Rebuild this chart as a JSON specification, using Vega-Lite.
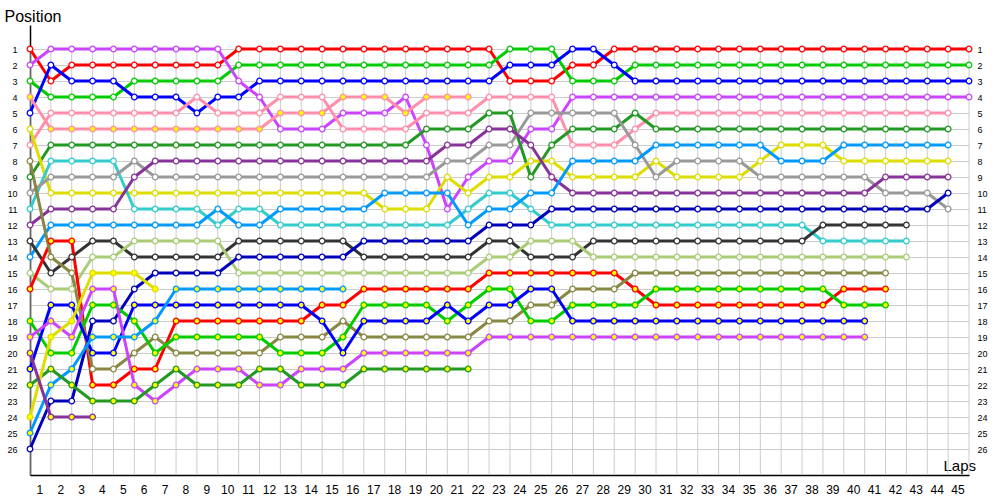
{
"$schema": "https://vega.github.io/schema/vega-lite/v6.json",
"width": 939,
"height": 450,
"autosize": {"type": "none"},
"padding": {"left": 30, "top": 25, "right": 31, "bottom": 25},
"background": "white",
"config": {"view": {"stroke": null}, "font": "Liberation Sans", "axis": {"labelOverlap": false}},
"data": {"values": [
{"car":"Rw","lap":0,"pos":1},{"car":"Rw","lap":1,"pos":3},{"car":"Rw","lap":2,"pos":2},{"car":"Rw","lap":3,"pos":2},{"car":"Rw","lap":4,"pos":2},{"car":"Rw","lap":5,"pos":2},{"car":"Rw","lap":6,"pos":2},{"car":"Rw","lap":7,"pos":2},{"car":"Rw","lap":8,"pos":2},{"car":"Rw","lap":9,"pos":2},
{"car":"Rw","lap":10,"pos":1},{"car":"Rw","lap":11,"pos":1},{"car":"Rw","lap":12,"pos":1},{"car":"Rw","lap":13,"pos":1},{"car":"Rw","lap":14,"pos":1},{"car":"Rw","lap":15,"pos":1},{"car":"Rw","lap":16,"pos":1},{"car":"Rw","lap":17,"pos":1},{"car":"Rw","lap":18,"pos":1},{"car":"Rw","lap":19,"pos":1},
{"car":"Rw","lap":20,"pos":1},{"car":"Rw","lap":21,"pos":1},{"car":"Rw","lap":22,"pos":1},{"car":"Rw","lap":23,"pos":3},{"car":"Rw","lap":24,"pos":3},{"car":"Rw","lap":25,"pos":3},{"car":"Rw","lap":26,"pos":2},{"car":"Rw","lap":27,"pos":2},{"car":"Rw","lap":28,"pos":1},{"car":"Rw","lap":29,"pos":1},
{"car":"Rw","lap":30,"pos":1},{"car":"Rw","lap":31,"pos":1},{"car":"Rw","lap":32,"pos":1},{"car":"Rw","lap":33,"pos":1},{"car":"Rw","lap":34,"pos":1},{"car":"Rw","lap":35,"pos":1},{"car":"Rw","lap":36,"pos":1},{"car":"Rw","lap":37,"pos":1},{"car":"Rw","lap":38,"pos":1},{"car":"Rw","lap":39,"pos":1},
{"car":"Rw","lap":40,"pos":1},{"car":"Rw","lap":41,"pos":1},{"car":"Rw","lap":42,"pos":1},{"car":"Rw","lap":43,"pos":1},{"car":"Rw","lap":44,"pos":1},{"car":"Rw","lap":45,"pos":1},

{"car":"Gw","lap":0,"pos":3},{"car":"Gw","lap":1,"pos":4},{"car":"Gw","lap":2,"pos":4},{"car":"Gw","lap":3,"pos":4},{"car":"Gw","lap":4,"pos":4},{"car":"Gw","lap":5,"pos":3},{"car":"Gw","lap":6,"pos":3},{"car":"Gw","lap":7,"pos":3},{"car":"Gw","lap":8,"pos":3},{"car":"Gw","lap":9,"pos":3},
{"car":"Gw","lap":10,"pos":2},{"car":"Gw","lap":11,"pos":2},{"car":"Gw","lap":12,"pos":2},{"car":"Gw","lap":13,"pos":2},{"car":"Gw","lap":14,"pos":2},{"car":"Gw","lap":15,"pos":2},{"car":"Gw","lap":16,"pos":2},{"car":"Gw","lap":17,"pos":2},{"car":"Gw","lap":18,"pos":2},{"car":"Gw","lap":19,"pos":2},
{"car":"Gw","lap":20,"pos":2},{"car":"Gw","lap":21,"pos":2},{"car":"Gw","lap":22,"pos":2},{"car":"Gw","lap":23,"pos":1},{"car":"Gw","lap":24,"pos":1},{"car":"Gw","lap":25,"pos":1},{"car":"Gw","lap":26,"pos":3},{"car":"Gw","lap":27,"pos":3},{"car":"Gw","lap":28,"pos":3},{"car":"Gw","lap":29,"pos":2},
{"car":"Gw","lap":30,"pos":2},{"car":"Gw","lap":31,"pos":2},{"car":"Gw","lap":32,"pos":2},{"car":"Gw","lap":33,"pos":2},{"car":"Gw","lap":34,"pos":2},{"car":"Gw","lap":35,"pos":2},{"car":"Gw","lap":36,"pos":2},{"car":"Gw","lap":37,"pos":2},{"car":"Gw","lap":38,"pos":2},{"car":"Gw","lap":39,"pos":2},
{"car":"Gw","lap":40,"pos":2},{"car":"Gw","lap":41,"pos":2},{"car":"Gw","lap":42,"pos":2},{"car":"Gw","lap":43,"pos":2},{"car":"Gw","lap":44,"pos":2},{"car":"Gw","lap":45,"pos":2},

{"car":"Bw","lap":0,"pos":5},{"car":"Bw","lap":1,"pos":2},{"car":"Bw","lap":2,"pos":3},{"car":"Bw","lap":3,"pos":3},{"car":"Bw","lap":4,"pos":3},{"car":"Bw","lap":5,"pos":4},{"car":"Bw","lap":6,"pos":4},{"car":"Bw","lap":7,"pos":4},{"car":"Bw","lap":8,"pos":5},{"car":"Bw","lap":9,"pos":4},
{"car":"Bw","lap":10,"pos":4},{"car":"Bw","lap":11,"pos":3},{"car":"Bw","lap":12,"pos":3},{"car":"Bw","lap":13,"pos":3},{"car":"Bw","lap":14,"pos":3},{"car":"Bw","lap":15,"pos":3},{"car":"Bw","lap":16,"pos":3},{"car":"Bw","lap":17,"pos":3},{"car":"Bw","lap":18,"pos":3},{"car":"Bw","lap":19,"pos":3},
{"car":"Bw","lap":20,"pos":3},{"car":"Bw","lap":21,"pos":3},{"car":"Bw","lap":22,"pos":3},{"car":"Bw","lap":23,"pos":2},{"car":"Bw","lap":24,"pos":2},{"car":"Bw","lap":25,"pos":2},{"car":"Bw","lap":26,"pos":1},{"car":"Bw","lap":27,"pos":1},{"car":"Bw","lap":28,"pos":2},{"car":"Bw","lap":29,"pos":3},
{"car":"Bw","lap":30,"pos":3},{"car":"Bw","lap":31,"pos":3},{"car":"Bw","lap":32,"pos":3},{"car":"Bw","lap":33,"pos":3},{"car":"Bw","lap":34,"pos":3},{"car":"Bw","lap":35,"pos":3},{"car":"Bw","lap":36,"pos":3},{"car":"Bw","lap":37,"pos":3},{"car":"Bw","lap":38,"pos":3},{"car":"Bw","lap":39,"pos":3},
{"car":"Bw","lap":40,"pos":3},{"car":"Bw","lap":41,"pos":3},{"car":"Bw","lap":42,"pos":3},{"car":"Bw","lap":43,"pos":3},{"car":"Bw","lap":44,"pos":3},{"car":"Bw","lap":45,"pos":3},

{"car":"Vw","lap":0,"pos":2},{"car":"Vw","lap":1,"pos":1},{"car":"Vw","lap":2,"pos":1},{"car":"Vw","lap":3,"pos":1},{"car":"Vw","lap":4,"pos":1},{"car":"Vw","lap":5,"pos":1},{"car":"Vw","lap":6,"pos":1},{"car":"Vw","lap":7,"pos":1},{"car":"Vw","lap":8,"pos":1},{"car":"Vw","lap":9,"pos":1},
{"car":"Vw","lap":10,"pos":3},{"car":"Vw","lap":11,"pos":4},{"car":"Vw","lap":12,"pos":6},{"car":"Vw","lap":13,"pos":6},{"car":"Vw","lap":14,"pos":6},{"car":"Vw","lap":15,"pos":5},{"car":"Vw","lap":16,"pos":5},{"car":"Vw","lap":17,"pos":5},{"car":"Vw","lap":18,"pos":4},{"car":"Vw","lap":19,"pos":7},
{"car":"Vw","lap":20,"pos":11},{"car":"Vw","lap":21,"pos":9},{"car":"Vw","lap":22,"pos":8},{"car":"Vw","lap":23,"pos":8},{"car":"Vw","lap":24,"pos":6},{"car":"Vw","lap":25,"pos":6},{"car":"Vw","lap":26,"pos":4},{"car":"Vw","lap":27,"pos":4},{"car":"Vw","lap":28,"pos":4},{"car":"Vw","lap":29,"pos":4},
{"car":"Vw","lap":30,"pos":4},{"car":"Vw","lap":31,"pos":4},{"car":"Vw","lap":32,"pos":4},{"car":"Vw","lap":33,"pos":4},{"car":"Vw","lap":34,"pos":4},{"car":"Vw","lap":35,"pos":4},{"car":"Vw","lap":36,"pos":4},{"car":"Vw","lap":37,"pos":4},{"car":"Vw","lap":38,"pos":4},{"car":"Vw","lap":39,"pos":4},
{"car":"Vw","lap":40,"pos":4},{"car":"Vw","lap":41,"pos":4},{"car":"Vw","lap":42,"pos":4},{"car":"Vw","lap":43,"pos":4},{"car":"Vw","lap":44,"pos":4},{"car":"Vw","lap":45,"pos":4},

{"car":"Pw","lap":0,"pos":7},{"car":"Pw","lap":1,"pos":5},{"car":"Pw","lap":2,"pos":5},{"car":"Pw","lap":3,"pos":5},{"car":"Pw","lap":4,"pos":5},{"car":"Pw","lap":5,"pos":5},{"car":"Pw","lap":6,"pos":5},{"car":"Pw","lap":7,"pos":5},{"car":"Pw","lap":8,"pos":4},{"car":"Pw","lap":9,"pos":5},
{"car":"Pw","lap":10,"pos":5},{"car":"Pw","lap":11,"pos":5},{"car":"Pw","lap":12,"pos":4},{"car":"Pw","lap":13,"pos":4},{"car":"Pw","lap":14,"pos":4},{"car":"Pw","lap":15,"pos":6},{"car":"Pw","lap":16,"pos":6},{"car":"Pw","lap":17,"pos":6},{"car":"Pw","lap":18,"pos":6},{"car":"Pw","lap":19,"pos":5},
{"car":"Pw","lap":20,"pos":5},{"car":"Pw","lap":21,"pos":5},{"car":"Pw","lap":22,"pos":4},{"car":"Pw","lap":23,"pos":4},{"car":"Pw","lap":24,"pos":4},{"car":"Pw","lap":25,"pos":4},{"car":"Pw","lap":26,"pos":7},{"car":"Pw","lap":27,"pos":7},{"car":"Pw","lap":28,"pos":7},{"car":"Pw","lap":29,"pos":6},
{"car":"Pw","lap":30,"pos":5},{"car":"Pw","lap":31,"pos":5},{"car":"Pw","lap":32,"pos":5},{"car":"Pw","lap":33,"pos":5},{"car":"Pw","lap":34,"pos":5},{"car":"Pw","lap":35,"pos":5},{"car":"Pw","lap":36,"pos":5},{"car":"Pw","lap":37,"pos":5},{"car":"Pw","lap":38,"pos":5},{"car":"Pw","lap":39,"pos":5},
{"car":"Pw","lap":40,"pos":5},{"car":"Pw","lap":41,"pos":5},{"car":"Pw","lap":42,"pos":5},{"car":"Pw","lap":43,"pos":5},{"car":"Pw","lap":44,"pos":5},

{"car":"Py","lap":0,"pos":4},{"car":"Py","lap":1,"pos":6},{"car":"Py","lap":2,"pos":6},{"car":"Py","lap":3,"pos":6},{"car":"Py","lap":4,"pos":6},{"car":"Py","lap":5,"pos":6},{"car":"Py","lap":6,"pos":6},{"car":"Py","lap":7,"pos":6},{"car":"Py","lap":8,"pos":6},{"car":"Py","lap":9,"pos":6},
{"car":"Py","lap":10,"pos":6},{"car":"Py","lap":11,"pos":6},{"car":"Py","lap":12,"pos":5},{"car":"Py","lap":13,"pos":5},{"car":"Py","lap":14,"pos":5},{"car":"Py","lap":15,"pos":4},{"car":"Py","lap":16,"pos":4},{"car":"Py","lap":17,"pos":4},{"car":"Py","lap":18,"pos":5},{"car":"Py","lap":19,"pos":4},
{"car":"Py","lap":20,"pos":4},{"car":"Py","lap":21,"pos":4},

{"car":"DGw","lap":0,"pos":9},{"car":"DGw","lap":1,"pos":7},{"car":"DGw","lap":2,"pos":7},{"car":"DGw","lap":3,"pos":7},{"car":"DGw","lap":4,"pos":7},{"car":"DGw","lap":5,"pos":7},{"car":"DGw","lap":6,"pos":7},{"car":"DGw","lap":7,"pos":7},{"car":"DGw","lap":8,"pos":7},{"car":"DGw","lap":9,"pos":7},
{"car":"DGw","lap":10,"pos":7},{"car":"DGw","lap":11,"pos":7},{"car":"DGw","lap":12,"pos":7},{"car":"DGw","lap":13,"pos":7},{"car":"DGw","lap":14,"pos":7},{"car":"DGw","lap":15,"pos":7},{"car":"DGw","lap":16,"pos":7},{"car":"DGw","lap":17,"pos":7},{"car":"DGw","lap":18,"pos":7},{"car":"DGw","lap":19,"pos":6},
{"car":"DGw","lap":20,"pos":6},{"car":"DGw","lap":21,"pos":6},{"car":"DGw","lap":22,"pos":5},{"car":"DGw","lap":23,"pos":5},{"car":"DGw","lap":24,"pos":9},{"car":"DGw","lap":25,"pos":7},{"car":"DGw","lap":26,"pos":6},{"car":"DGw","lap":27,"pos":6},{"car":"DGw","lap":28,"pos":6},{"car":"DGw","lap":29,"pos":5},
{"car":"DGw","lap":30,"pos":6},{"car":"DGw","lap":31,"pos":6},{"car":"DGw","lap":32,"pos":6},{"car":"DGw","lap":33,"pos":6},{"car":"DGw","lap":34,"pos":6},{"car":"DGw","lap":35,"pos":6},{"car":"DGw","lap":36,"pos":6},{"car":"DGw","lap":37,"pos":6},{"car":"DGw","lap":38,"pos":6},{"car":"DGw","lap":39,"pos":6},
{"car":"DGw","lap":40,"pos":6},{"car":"DGw","lap":41,"pos":6},{"car":"DGw","lap":42,"pos":6},{"car":"DGw","lap":43,"pos":6},{"car":"DGw","lap":44,"pos":6},

{"car":"Yw","lap":0,"pos":6},{"car":"Yw","lap":1,"pos":10},{"car":"Yw","lap":2,"pos":10},{"car":"Yw","lap":3,"pos":10},{"car":"Yw","lap":4,"pos":10},{"car":"Yw","lap":5,"pos":10},{"car":"Yw","lap":6,"pos":10},{"car":"Yw","lap":7,"pos":10},{"car":"Yw","lap":8,"pos":10},{"car":"Yw","lap":9,"pos":10},
{"car":"Yw","lap":10,"pos":10},{"car":"Yw","lap":11,"pos":10},{"car":"Yw","lap":12,"pos":10},{"car":"Yw","lap":13,"pos":10},{"car":"Yw","lap":14,"pos":10},{"car":"Yw","lap":15,"pos":10},{"car":"Yw","lap":16,"pos":10},{"car":"Yw","lap":17,"pos":11},{"car":"Yw","lap":18,"pos":11},{"car":"Yw","lap":19,"pos":11},
{"car":"Yw","lap":20,"pos":9},{"car":"Yw","lap":21,"pos":10},{"car":"Yw","lap":22,"pos":9},{"car":"Yw","lap":23,"pos":9},{"car":"Yw","lap":24,"pos":8},{"car":"Yw","lap":25,"pos":8},{"car":"Yw","lap":26,"pos":9},{"car":"Yw","lap":27,"pos":9},{"car":"Yw","lap":28,"pos":9},{"car":"Yw","lap":29,"pos":9},
{"car":"Yw","lap":30,"pos":8},{"car":"Yw","lap":31,"pos":9},{"car":"Yw","lap":32,"pos":9},{"car":"Yw","lap":33,"pos":9},{"car":"Yw","lap":34,"pos":9},{"car":"Yw","lap":35,"pos":8},{"car":"Yw","lap":36,"pos":7},{"car":"Yw","lap":37,"pos":7},{"car":"Yw","lap":38,"pos":7},{"car":"Yw","lap":39,"pos":8},
{"car":"Yw","lap":40,"pos":8},{"car":"Yw","lap":41,"pos":8},{"car":"Yw","lap":42,"pos":8},{"car":"Yw","lap":43,"pos":8},{"car":"Yw","lap":44,"pos":8},

{"car":"Tw","lap":0,"pos":11},{"car":"Tw","lap":1,"pos":8},{"car":"Tw","lap":2,"pos":8},{"car":"Tw","lap":3,"pos":8},{"car":"Tw","lap":4,"pos":8},{"car":"Tw","lap":5,"pos":11},{"car":"Tw","lap":6,"pos":11},{"car":"Tw","lap":7,"pos":11},{"car":"Tw","lap":8,"pos":11},{"car":"Tw","lap":9,"pos":12},
{"car":"Tw","lap":10,"pos":11},{"car":"Tw","lap":11,"pos":11},{"car":"Tw","lap":12,"pos":12},{"car":"Tw","lap":13,"pos":12},{"car":"Tw","lap":14,"pos":12},{"car":"Tw","lap":15,"pos":12},{"car":"Tw","lap":16,"pos":12},{"car":"Tw","lap":17,"pos":12},{"car":"Tw","lap":18,"pos":12},{"car":"Tw","lap":19,"pos":12},
{"car":"Tw","lap":20,"pos":12},{"car":"Tw","lap":21,"pos":11},{"car":"Tw","lap":22,"pos":10},{"car":"Tw","lap":23,"pos":10},{"car":"Tw","lap":24,"pos":11},{"car":"Tw","lap":25,"pos":12},{"car":"Tw","lap":26,"pos":12},{"car":"Tw","lap":27,"pos":12},{"car":"Tw","lap":28,"pos":12},{"car":"Tw","lap":29,"pos":12},
{"car":"Tw","lap":30,"pos":12},{"car":"Tw","lap":31,"pos":12},{"car":"Tw","lap":32,"pos":12},{"car":"Tw","lap":33,"pos":12},{"car":"Tw","lap":34,"pos":12},{"car":"Tw","lap":35,"pos":12},{"car":"Tw","lap":36,"pos":12},{"car":"Tw","lap":37,"pos":12},{"car":"Tw","lap":38,"pos":13},{"car":"Tw","lap":39,"pos":13},
{"car":"Tw","lap":40,"pos":13},{"car":"Tw","lap":41,"pos":13},{"car":"Tw","lap":42,"pos":13},

{"car":"Grw","lap":0,"pos":10},{"car":"Grw","lap":1,"pos":9},{"car":"Grw","lap":2,"pos":9},{"car":"Grw","lap":3,"pos":9},{"car":"Grw","lap":4,"pos":9},{"car":"Grw","lap":5,"pos":8},{"car":"Grw","lap":6,"pos":9},{"car":"Grw","lap":7,"pos":9},{"car":"Grw","lap":8,"pos":9},{"car":"Grw","lap":9,"pos":9},
{"car":"Grw","lap":10,"pos":9},{"car":"Grw","lap":11,"pos":9},{"car":"Grw","lap":12,"pos":9},{"car":"Grw","lap":13,"pos":9},{"car":"Grw","lap":14,"pos":9},{"car":"Grw","lap":15,"pos":9},{"car":"Grw","lap":16,"pos":9},{"car":"Grw","lap":17,"pos":9},{"car":"Grw","lap":18,"pos":9},{"car":"Grw","lap":19,"pos":9},
{"car":"Grw","lap":20,"pos":8},{"car":"Grw","lap":21,"pos":8},{"car":"Grw","lap":22,"pos":7},{"car":"Grw","lap":23,"pos":7},{"car":"Grw","lap":24,"pos":5},{"car":"Grw","lap":25,"pos":5},{"car":"Grw","lap":26,"pos":5},{"car":"Grw","lap":27,"pos":5},{"car":"Grw","lap":28,"pos":5},{"car":"Grw","lap":29,"pos":7},
{"car":"Grw","lap":30,"pos":9},{"car":"Grw","lap":31,"pos":8},{"car":"Grw","lap":32,"pos":8},{"car":"Grw","lap":33,"pos":8},{"car":"Grw","lap":34,"pos":8},{"car":"Grw","lap":35,"pos":9},{"car":"Grw","lap":36,"pos":9},{"car":"Grw","lap":37,"pos":9},{"car":"Grw","lap":38,"pos":9},{"car":"Grw","lap":39,"pos":9},
{"car":"Grw","lap":40,"pos":9},{"car":"Grw","lap":41,"pos":10},{"car":"Grw","lap":42,"pos":10},{"car":"Grw","lap":43,"pos":10},{"car":"Grw","lap":44,"pos":11},

{"car":"Puw","lap":0,"pos":12},{"car":"Puw","lap":1,"pos":11},{"car":"Puw","lap":2,"pos":11},{"car":"Puw","lap":3,"pos":11},{"car":"Puw","lap":4,"pos":11},{"car":"Puw","lap":5,"pos":9},{"car":"Puw","lap":6,"pos":8},{"car":"Puw","lap":7,"pos":8},{"car":"Puw","lap":8,"pos":8},{"car":"Puw","lap":9,"pos":8},
{"car":"Puw","lap":10,"pos":8},{"car":"Puw","lap":11,"pos":8},{"car":"Puw","lap":12,"pos":8},{"car":"Puw","lap":13,"pos":8},{"car":"Puw","lap":14,"pos":8},{"car":"Puw","lap":15,"pos":8},{"car":"Puw","lap":16,"pos":8},{"car":"Puw","lap":17,"pos":8},{"car":"Puw","lap":18,"pos":8},{"car":"Puw","lap":19,"pos":8},
{"car":"Puw","lap":20,"pos":7},{"car":"Puw","lap":21,"pos":7},{"car":"Puw","lap":22,"pos":6},{"car":"Puw","lap":23,"pos":6},{"car":"Puw","lap":24,"pos":7},{"car":"Puw","lap":25,"pos":9},{"car":"Puw","lap":26,"pos":10},{"car":"Puw","lap":27,"pos":10},{"car":"Puw","lap":28,"pos":10},{"car":"Puw","lap":29,"pos":10},
{"car":"Puw","lap":30,"pos":10},{"car":"Puw","lap":31,"pos":10},{"car":"Puw","lap":32,"pos":10},{"car":"Puw","lap":33,"pos":10},{"car":"Puw","lap":34,"pos":10},{"car":"Puw","lap":35,"pos":10},{"car":"Puw","lap":36,"pos":10},{"car":"Puw","lap":37,"pos":10},{"car":"Puw","lap":38,"pos":10},{"car":"Puw","lap":39,"pos":10},
{"car":"Puw","lap":40,"pos":10},{"car":"Puw","lap":41,"pos":9},{"car":"Puw","lap":42,"pos":9},{"car":"Puw","lap":43,"pos":9},{"car":"Puw","lap":44,"pos":9},

{"car":"LBw","lap":0,"pos":14},{"car":"LBw","lap":1,"pos":12},{"car":"LBw","lap":2,"pos":12},{"car":"LBw","lap":3,"pos":12},{"car":"LBw","lap":4,"pos":12},{"car":"LBw","lap":5,"pos":12},{"car":"LBw","lap":6,"pos":12},{"car":"LBw","lap":7,"pos":12},{"car":"LBw","lap":8,"pos":12},{"car":"LBw","lap":9,"pos":11},
{"car":"LBw","lap":10,"pos":12},{"car":"LBw","lap":11,"pos":12},{"car":"LBw","lap":12,"pos":11},{"car":"LBw","lap":13,"pos":11},{"car":"LBw","lap":14,"pos":11},{"car":"LBw","lap":15,"pos":11},{"car":"LBw","lap":16,"pos":11},{"car":"LBw","lap":17,"pos":10},{"car":"LBw","lap":18,"pos":10},{"car":"LBw","lap":19,"pos":10},
{"car":"LBw","lap":20,"pos":10},{"car":"LBw","lap":21,"pos":12},{"car":"LBw","lap":22,"pos":11},{"car":"LBw","lap":23,"pos":11},{"car":"LBw","lap":24,"pos":10},{"car":"LBw","lap":25,"pos":10},{"car":"LBw","lap":26,"pos":8},{"car":"LBw","lap":27,"pos":8},{"car":"LBw","lap":28,"pos":8},{"car":"LBw","lap":29,"pos":8},
{"car":"LBw","lap":30,"pos":7},{"car":"LBw","lap":31,"pos":7},{"car":"LBw","lap":32,"pos":7},{"car":"LBw","lap":33,"pos":7},{"car":"LBw","lap":34,"pos":7},{"car":"LBw","lap":35,"pos":7},{"car":"LBw","lap":36,"pos":8},{"car":"LBw","lap":37,"pos":8},{"car":"LBw","lap":38,"pos":8},{"car":"LBw","lap":39,"pos":7},
{"car":"LBw","lap":40,"pos":7},{"car":"LBw","lap":41,"pos":7},{"car":"LBw","lap":42,"pos":7},{"car":"LBw","lap":43,"pos":7},{"car":"LBw","lap":44,"pos":7},

{"car":"Kw","lap":0,"pos":13},{"car":"Kw","lap":1,"pos":15},{"car":"Kw","lap":2,"pos":14},{"car":"Kw","lap":3,"pos":13},{"car":"Kw","lap":4,"pos":13},{"car":"Kw","lap":5,"pos":14},{"car":"Kw","lap":6,"pos":14},{"car":"Kw","lap":7,"pos":14},{"car":"Kw","lap":8,"pos":14},{"car":"Kw","lap":9,"pos":14},
{"car":"Kw","lap":10,"pos":13},{"car":"Kw","lap":11,"pos":13},{"car":"Kw","lap":12,"pos":13},{"car":"Kw","lap":13,"pos":13},{"car":"Kw","lap":14,"pos":13},{"car":"Kw","lap":15,"pos":13},{"car":"Kw","lap":16,"pos":14},{"car":"Kw","lap":17,"pos":14},{"car":"Kw","lap":18,"pos":14},{"car":"Kw","lap":19,"pos":14},
{"car":"Kw","lap":20,"pos":14},{"car":"Kw","lap":21,"pos":14},{"car":"Kw","lap":22,"pos":13},{"car":"Kw","lap":23,"pos":13},{"car":"Kw","lap":24,"pos":14},{"car":"Kw","lap":25,"pos":14},{"car":"Kw","lap":26,"pos":14},{"car":"Kw","lap":27,"pos":13},{"car":"Kw","lap":28,"pos":13},{"car":"Kw","lap":29,"pos":13},
{"car":"Kw","lap":30,"pos":13},{"car":"Kw","lap":31,"pos":13},{"car":"Kw","lap":32,"pos":13},{"car":"Kw","lap":33,"pos":13},{"car":"Kw","lap":34,"pos":13},{"car":"Kw","lap":35,"pos":13},{"car":"Kw","lap":36,"pos":13},{"car":"Kw","lap":37,"pos":13},{"car":"Kw","lap":38,"pos":12},{"car":"Kw","lap":39,"pos":12},
{"car":"Kw","lap":40,"pos":12},{"car":"Kw","lap":41,"pos":12},{"car":"Kw","lap":42,"pos":12},

{"car":"LGw","lap":0,"pos":15},{"car":"LGw","lap":1,"pos":16},{"car":"LGw","lap":2,"pos":16},{"car":"LGw","lap":3,"pos":14},{"car":"LGw","lap":4,"pos":14},{"car":"LGw","lap":5,"pos":13},{"car":"LGw","lap":6,"pos":13},{"car":"LGw","lap":7,"pos":13},{"car":"LGw","lap":8,"pos":13},{"car":"LGw","lap":9,"pos":13},
{"car":"LGw","lap":10,"pos":15},{"car":"LGw","lap":11,"pos":15},{"car":"LGw","lap":12,"pos":15},{"car":"LGw","lap":13,"pos":15},{"car":"LGw","lap":14,"pos":15},{"car":"LGw","lap":15,"pos":15},{"car":"LGw","lap":16,"pos":15},{"car":"LGw","lap":17,"pos":15},{"car":"LGw","lap":18,"pos":15},{"car":"LGw","lap":19,"pos":15},
{"car":"LGw","lap":20,"pos":15},{"car":"LGw","lap":21,"pos":15},{"car":"LGw","lap":22,"pos":14},{"car":"LGw","lap":23,"pos":14},{"car":"LGw","lap":24,"pos":13},{"car":"LGw","lap":25,"pos":13},{"car":"LGw","lap":26,"pos":13},{"car":"LGw","lap":27,"pos":14},{"car":"LGw","lap":28,"pos":14},{"car":"LGw","lap":29,"pos":14},
{"car":"LGw","lap":30,"pos":14},{"car":"LGw","lap":31,"pos":14},{"car":"LGw","lap":32,"pos":14},{"car":"LGw","lap":33,"pos":14},{"car":"LGw","lap":34,"pos":14},{"car":"LGw","lap":35,"pos":14},{"car":"LGw","lap":36,"pos":14},{"car":"LGw","lap":37,"pos":14},{"car":"LGw","lap":38,"pos":14},{"car":"LGw","lap":39,"pos":14},
{"car":"LGw","lap":40,"pos":14},{"car":"LGw","lap":41,"pos":14},{"car":"LGw","lap":42,"pos":14},

{"car":"Nw","lap":0,"pos":26},{"car":"Nw","lap":1,"pos":23},{"car":"Nw","lap":2,"pos":23},{"car":"Nw","lap":3,"pos":18},{"car":"Nw","lap":4,"pos":18},{"car":"Nw","lap":5,"pos":16},{"car":"Nw","lap":6,"pos":15},{"car":"Nw","lap":7,"pos":15},{"car":"Nw","lap":8,"pos":15},{"car":"Nw","lap":9,"pos":15},
{"car":"Nw","lap":10,"pos":14},{"car":"Nw","lap":11,"pos":14},{"car":"Nw","lap":12,"pos":14},{"car":"Nw","lap":13,"pos":14},{"car":"Nw","lap":14,"pos":14},{"car":"Nw","lap":15,"pos":14},{"car":"Nw","lap":16,"pos":13},{"car":"Nw","lap":17,"pos":13},{"car":"Nw","lap":18,"pos":13},{"car":"Nw","lap":19,"pos":13},
{"car":"Nw","lap":20,"pos":13},{"car":"Nw","lap":21,"pos":13},{"car":"Nw","lap":22,"pos":12},{"car":"Nw","lap":23,"pos":12},{"car":"Nw","lap":24,"pos":12},{"car":"Nw","lap":25,"pos":11},{"car":"Nw","lap":26,"pos":11},{"car":"Nw","lap":27,"pos":11},{"car":"Nw","lap":28,"pos":11},{"car":"Nw","lap":29,"pos":11},
{"car":"Nw","lap":30,"pos":11},{"car":"Nw","lap":31,"pos":11},{"car":"Nw","lap":32,"pos":11},{"car":"Nw","lap":33,"pos":11},{"car":"Nw","lap":34,"pos":11},{"car":"Nw","lap":35,"pos":11},{"car":"Nw","lap":36,"pos":11},{"car":"Nw","lap":37,"pos":11},{"car":"Nw","lap":38,"pos":11},{"car":"Nw","lap":39,"pos":11},
{"car":"Nw","lap":40,"pos":11},{"car":"Nw","lap":41,"pos":11},{"car":"Nw","lap":42,"pos":11},{"car":"Nw","lap":43,"pos":11},{"car":"Nw","lap":44,"pos":10},

{"car":"Ry","lap":0,"pos":16},{"car":"Ry","lap":1,"pos":13},{"car":"Ry","lap":2,"pos":13},{"car":"Ry","lap":3,"pos":22},{"car":"Ry","lap":4,"pos":22},{"car":"Ry","lap":5,"pos":21},{"car":"Ry","lap":6,"pos":21},{"car":"Ry","lap":7,"pos":18},{"car":"Ry","lap":8,"pos":18},{"car":"Ry","lap":9,"pos":18},
{"car":"Ry","lap":10,"pos":18},{"car":"Ry","lap":11,"pos":18},{"car":"Ry","lap":12,"pos":18},{"car":"Ry","lap":13,"pos":18},{"car":"Ry","lap":14,"pos":17},{"car":"Ry","lap":15,"pos":17},{"car":"Ry","lap":16,"pos":16},{"car":"Ry","lap":17,"pos":16},{"car":"Ry","lap":18,"pos":16},{"car":"Ry","lap":19,"pos":16},
{"car":"Ry","lap":20,"pos":16},{"car":"Ry","lap":21,"pos":16},{"car":"Ry","lap":22,"pos":15},{"car":"Ry","lap":23,"pos":15},{"car":"Ry","lap":24,"pos":15},{"car":"Ry","lap":25,"pos":15},{"car":"Ry","lap":26,"pos":15},{"car":"Ry","lap":27,"pos":15},{"car":"Ry","lap":28,"pos":15},{"car":"Ry","lap":29,"pos":16},
{"car":"Ry","lap":30,"pos":17},{"car":"Ry","lap":31,"pos":17},{"car":"Ry","lap":32,"pos":17},{"car":"Ry","lap":33,"pos":17},{"car":"Ry","lap":34,"pos":17},{"car":"Ry","lap":35,"pos":17},{"car":"Ry","lap":36,"pos":17},{"car":"Ry","lap":37,"pos":17},{"car":"Ry","lap":38,"pos":17},{"car":"Ry","lap":39,"pos":16},
{"car":"Ry","lap":40,"pos":16},{"car":"Ry","lap":41,"pos":16},

{"car":"Ow","lap":0,"pos":8},{"car":"Ow","lap":1,"pos":14},{"car":"Ow","lap":2,"pos":15},{"car":"Ow","lap":3,"pos":21},{"car":"Ow","lap":4,"pos":21},{"car":"Ow","lap":5,"pos":20},{"car":"Ow","lap":6,"pos":19},{"car":"Ow","lap":7,"pos":20},{"car":"Ow","lap":8,"pos":20},{"car":"Ow","lap":9,"pos":20},
{"car":"Ow","lap":10,"pos":20},{"car":"Ow","lap":11,"pos":20},{"car":"Ow","lap":12,"pos":19},{"car":"Ow","lap":13,"pos":19},{"car":"Ow","lap":14,"pos":19},{"car":"Ow","lap":15,"pos":18},{"car":"Ow","lap":16,"pos":19},{"car":"Ow","lap":17,"pos":19},{"car":"Ow","lap":18,"pos":19},{"car":"Ow","lap":19,"pos":19},
{"car":"Ow","lap":20,"pos":19},{"car":"Ow","lap":21,"pos":19},{"car":"Ow","lap":22,"pos":18},{"car":"Ow","lap":23,"pos":18},{"car":"Ow","lap":24,"pos":17},{"car":"Ow","lap":25,"pos":17},{"car":"Ow","lap":26,"pos":16},{"car":"Ow","lap":27,"pos":16},{"car":"Ow","lap":28,"pos":16},{"car":"Ow","lap":29,"pos":15},
{"car":"Ow","lap":30,"pos":15},{"car":"Ow","lap":31,"pos":15},{"car":"Ow","lap":32,"pos":15},{"car":"Ow","lap":33,"pos":15},{"car":"Ow","lap":34,"pos":15},{"car":"Ow","lap":35,"pos":15},{"car":"Ow","lap":36,"pos":15},{"car":"Ow","lap":37,"pos":15},{"car":"Ow","lap":38,"pos":15},{"car":"Ow","lap":39,"pos":15},
{"car":"Ow","lap":40,"pos":15},{"car":"Ow","lap":41,"pos":15},

{"car":"Gy","lap":0,"pos":18},{"car":"Gy","lap":1,"pos":20},{"car":"Gy","lap":2,"pos":20},{"car":"Gy","lap":3,"pos":17},{"car":"Gy","lap":4,"pos":17},{"car":"Gy","lap":5,"pos":18},{"car":"Gy","lap":6,"pos":20},{"car":"Gy","lap":7,"pos":19},{"car":"Gy","lap":8,"pos":19},{"car":"Gy","lap":9,"pos":19},
{"car":"Gy","lap":10,"pos":19},{"car":"Gy","lap":11,"pos":19},{"car":"Gy","lap":12,"pos":20},{"car":"Gy","lap":13,"pos":20},{"car":"Gy","lap":14,"pos":20},{"car":"Gy","lap":15,"pos":19},{"car":"Gy","lap":16,"pos":17},{"car":"Gy","lap":17,"pos":17},{"car":"Gy","lap":18,"pos":17},{"car":"Gy","lap":19,"pos":17},
{"car":"Gy","lap":20,"pos":18},{"car":"Gy","lap":21,"pos":17},{"car":"Gy","lap":22,"pos":16},{"car":"Gy","lap":23,"pos":16},{"car":"Gy","lap":24,"pos":18},{"car":"Gy","lap":25,"pos":18},{"car":"Gy","lap":26,"pos":17},{"car":"Gy","lap":27,"pos":17},{"car":"Gy","lap":28,"pos":17},{"car":"Gy","lap":29,"pos":17},
{"car":"Gy","lap":30,"pos":16},{"car":"Gy","lap":31,"pos":16},{"car":"Gy","lap":32,"pos":16},{"car":"Gy","lap":33,"pos":16},{"car":"Gy","lap":34,"pos":16},{"car":"Gy","lap":35,"pos":16},{"car":"Gy","lap":36,"pos":16},{"car":"Gy","lap":37,"pos":16},{"car":"Gy","lap":38,"pos":16},{"car":"Gy","lap":39,"pos":17},
{"car":"Gy","lap":40,"pos":17},{"car":"Gy","lap":41,"pos":17},

{"car":"By","lap":0,"pos":21},{"car":"By","lap":1,"pos":17},{"car":"By","lap":2,"pos":17},{"car":"By","lap":3,"pos":20},{"car":"By","lap":4,"pos":20},{"car":"By","lap":5,"pos":17},{"car":"By","lap":6,"pos":17},{"car":"By","lap":7,"pos":17},{"car":"By","lap":8,"pos":17},{"car":"By","lap":9,"pos":17},
{"car":"By","lap":10,"pos":17},{"car":"By","lap":11,"pos":17},{"car":"By","lap":12,"pos":17},{"car":"By","lap":13,"pos":17},{"car":"By","lap":14,"pos":18},{"car":"By","lap":15,"pos":20},{"car":"By","lap":16,"pos":18},{"car":"By","lap":17,"pos":18},{"car":"By","lap":18,"pos":18},{"car":"By","lap":19,"pos":18},
{"car":"By","lap":20,"pos":17},{"car":"By","lap":21,"pos":18},{"car":"By","lap":22,"pos":17},{"car":"By","lap":23,"pos":17},{"car":"By","lap":24,"pos":16},{"car":"By","lap":25,"pos":16},{"car":"By","lap":26,"pos":18},{"car":"By","lap":27,"pos":18},{"car":"By","lap":28,"pos":18},{"car":"By","lap":29,"pos":18},
{"car":"By","lap":30,"pos":18},{"car":"By","lap":31,"pos":18},{"car":"By","lap":32,"pos":18},{"car":"By","lap":33,"pos":18},{"car":"By","lap":34,"pos":18},{"car":"By","lap":35,"pos":18},{"car":"By","lap":36,"pos":18},{"car":"By","lap":37,"pos":18},{"car":"By","lap":38,"pos":18},{"car":"By","lap":39,"pos":18},
{"car":"By","lap":40,"pos":18},

{"car":"Vy","lap":0,"pos":19},{"car":"Vy","lap":1,"pos":18},{"car":"Vy","lap":2,"pos":19},{"car":"Vy","lap":3,"pos":16},{"car":"Vy","lap":4,"pos":16},{"car":"Vy","lap":5,"pos":22},{"car":"Vy","lap":6,"pos":23},{"car":"Vy","lap":7,"pos":22},{"car":"Vy","lap":8,"pos":21},{"car":"Vy","lap":9,"pos":21},
{"car":"Vy","lap":10,"pos":21},{"car":"Vy","lap":11,"pos":22},{"car":"Vy","lap":12,"pos":22},{"car":"Vy","lap":13,"pos":21},{"car":"Vy","lap":14,"pos":21},{"car":"Vy","lap":15,"pos":21},{"car":"Vy","lap":16,"pos":20},{"car":"Vy","lap":17,"pos":20},{"car":"Vy","lap":18,"pos":20},{"car":"Vy","lap":19,"pos":20},
{"car":"Vy","lap":20,"pos":20},{"car":"Vy","lap":21,"pos":20},{"car":"Vy","lap":22,"pos":19},{"car":"Vy","lap":23,"pos":19},{"car":"Vy","lap":24,"pos":19},{"car":"Vy","lap":25,"pos":19},{"car":"Vy","lap":26,"pos":19},{"car":"Vy","lap":27,"pos":19},{"car":"Vy","lap":28,"pos":19},{"car":"Vy","lap":29,"pos":19},
{"car":"Vy","lap":30,"pos":19},{"car":"Vy","lap":31,"pos":19},{"car":"Vy","lap":32,"pos":19},{"car":"Vy","lap":33,"pos":19},{"car":"Vy","lap":34,"pos":19},{"car":"Vy","lap":35,"pos":19},{"car":"Vy","lap":36,"pos":19},{"car":"Vy","lap":37,"pos":19},{"car":"Vy","lap":38,"pos":19},{"car":"Vy","lap":39,"pos":19},
{"car":"Vy","lap":40,"pos":19},

{"car":"LBy","lap":0,"pos":25},{"car":"LBy","lap":1,"pos":22},{"car":"LBy","lap":2,"pos":21},{"car":"LBy","lap":3,"pos":19},{"car":"LBy","lap":4,"pos":19},{"car":"LBy","lap":5,"pos":19},{"car":"LBy","lap":6,"pos":18},{"car":"LBy","lap":7,"pos":16},{"car":"LBy","lap":8,"pos":16},{"car":"LBy","lap":9,"pos":16},
{"car":"LBy","lap":10,"pos":16},{"car":"LBy","lap":11,"pos":16},{"car":"LBy","lap":12,"pos":16},{"car":"LBy","lap":13,"pos":16},{"car":"LBy","lap":14,"pos":16},{"car":"LBy","lap":15,"pos":16},

{"car":"DGy","lap":0,"pos":22},{"car":"DGy","lap":1,"pos":21},{"car":"DGy","lap":2,"pos":22},{"car":"DGy","lap":3,"pos":23},{"car":"DGy","lap":4,"pos":23},{"car":"DGy","lap":5,"pos":23},{"car":"DGy","lap":6,"pos":22},{"car":"DGy","lap":7,"pos":21},{"car":"DGy","lap":8,"pos":22},{"car":"DGy","lap":9,"pos":22},
{"car":"DGy","lap":10,"pos":22},{"car":"DGy","lap":11,"pos":21},{"car":"DGy","lap":12,"pos":21},{"car":"DGy","lap":13,"pos":22},{"car":"DGy","lap":14,"pos":22},{"car":"DGy","lap":15,"pos":22},{"car":"DGy","lap":16,"pos":21},{"car":"DGy","lap":17,"pos":21},{"car":"DGy","lap":18,"pos":21},{"car":"DGy","lap":19,"pos":21},
{"car":"DGy","lap":20,"pos":21},{"car":"DGy","lap":21,"pos":21},

{"car":"Yy","lap":0,"pos":24},{"car":"Yy","lap":1,"pos":19},{"car":"Yy","lap":2,"pos":18},{"car":"Yy","lap":3,"pos":15},{"car":"Yy","lap":4,"pos":15},{"car":"Yy","lap":5,"pos":15},{"car":"Yy","lap":6,"pos":16},

{"car":"Puy","lap":0,"pos":20},{"car":"Puy","lap":1,"pos":24},{"car":"Puy","lap":2,"pos":24},{"car":"Puy","lap":3,"pos":24}
]},
"resolve": {"axis": {"y": "independent"}},
"layer": [
{
"transform": [{"aggregate": [{"op": "count", "as": "n"}], "groupby": ["lap"]}],
"mark": {"type": "rule", "color": "#cccccc", "strokeWidth": 1},
"encoding": {
"x": {"field": "lap", "type": "quantitative", "scale": {"domain": [0, 45], "nice": false, "zero": false},
"axis": {"orient": "bottom", "values": [1,2,3,4,5,6,7,8,9,10,11,12,13,14,15,16,17,18,19,20,21,22,23,24,25,26,27,28,29,30,31,32,33,34,35,36,37,38,39,40,41,42,43,44,45],
"ticks": false, "tickSize": 0, "grid": false, "domainColor": "#000000", "domainWidth": 1.5,
"labelFont": "Liberation Sans", "labelFontSize": 12, "labelColor": "#000000", "labelPadding": 9, "labelOffset": -11.5, "labelFlush": false, "labelOverlap": false, "labelBound": false,
"title": "Laps", "titleFont": "Liberation Sans", "titleFontSize": 15, "titleFontWeight": "normal", "titleColor": "#000000", "titleX": 913, "titleY": -5, "titleAlign": "left", "titleBaseline": "alphabetic", "titleAnchor": "start"}},
"y": {"datum": 1, "type": "quantitative", "scale": {"domain": [-0.5, 27.625], "nice": false, "zero": false, "reverse": true}, "axis": null},
"y2": {"datum": 27.625}
}
},
{
"mark": {"type": "line", "strokeWidth": 3, "strokeJoin": "round"},
"encoding": {
"x": {"field": "lap", "type": "quantitative",
"axis": {"orient": "bottom", "values": [1,2,3,4,5,6,7,8,9,10,11,12,13,14,15,16,17,18,19,20,21,22,23,24,25,26,27,28,29,30,31,32,33,34,35,36,37,38,39,40,41,42,43,44,45],
"ticks": false, "tickSize": 0, "grid": false, "domainColor": "#000000", "domainWidth": 1.5,
"labelFont": "Liberation Sans", "labelFontSize": 12, "labelColor": "#000000", "labelPadding": 9, "labelOffset": -11.5, "labelFlush": false, "labelOverlap": false, "labelBound": false,
"title": "Laps", "titleFont": "Liberation Sans", "titleFontSize": 15, "titleFontWeight": "normal", "titleColor": "#000000", "titleX": 913, "titleY": -5, "titleAlign": "left", "titleBaseline": "alphabetic", "titleAnchor": "start"}},
"y": {"field": "pos", "type": "quantitative",
"axis": {"orient": "left", "values": [1,2,3,4,5,6,7,8,9,10,11,12,13,14,15,16,17,18,19,20,21,22,23,24,25,26],
"ticks": false, "tickSize": 0, "grid": true, "gridColor": "#cccccc", "gridWidth": 1, "domainColor": "#000000", "domainWidth": 1.5,
"labelFont": "Liberation Sans", "labelFontSize": 9, "labelColor": "#000000", "labelPadding": 13, "labelOverlap": false, "labelFlush": false, "labelBound": false,
"title": "Position", "titleFont": "Liberation Sans", "titleFontSize": 16, "titleFontWeight": "normal", "titleColor": "#000000", "titleAngle": 0, "titleX": -26, "titleY": -4, "titleAlign": "left", "titleBaseline": "alphabetic"}},
"stroke": {"field": "car", "type": "nominal", "legend": null,
"scale": {"domain": ["Rw","Ry","Gw","Gy","Bw","By","Vw","Vy","Pw","Py","DGw","DGy","Yw","Yy","LBw","LBy","Puw","Puy","Tw","Grw","Kw","LGw","Ow","Nw"],
"range": ["#ff0000","#ff0000","#00cc00","#00cc00","#0000ff","#0000ff","#cc44ff","#cc44ff","#ff8faa","#ff8faa","#229922","#229922","#dddd00","#dddd00","#0099ff","#0099ff","#883399","#883399","#33cccc","#999999","#333333","#aacc77","#888844","#0000bb"]}}
}
},
{
"mark": {"type": "point", "shape": "circle", "filled": true, "size": 32, "strokeWidth": 1.3, "opacity": 1},
"encoding": {
"x": {"field": "lap", "type": "quantitative",
"axis": {"orient": "bottom", "values": [1,2,3,4,5,6,7,8,9,10,11,12,13,14,15,16,17,18,19,20,21,22,23,24,25,26,27,28,29,30,31,32,33,34,35,36,37,38,39,40,41,42,43,44,45],
"ticks": false, "tickSize": 0, "grid": false, "domainColor": "#000000", "domainWidth": 1.5,
"labelFont": "Liberation Sans", "labelFontSize": 12, "labelColor": "#000000", "labelPadding": 9, "labelOffset": -11.5, "labelFlush": false, "labelOverlap": false, "labelBound": false,
"title": "Laps", "titleFont": "Liberation Sans", "titleFontSize": 15, "titleFontWeight": "normal", "titleColor": "#000000", "titleX": 913, "titleY": -5, "titleAlign": "left", "titleBaseline": "alphabetic", "titleAnchor": "start"}},
"y": {"field": "pos", "type": "quantitative",
"axis": {"orient": "right", "values": [1,2,3,4,5,6,7,8,9,10,11,12,13,14,15,16,17,18,19,20,21,22,23,24,25,26],
"ticks": false, "tickSize": 0, "grid": false, "domain": false,
"labelFont": "Liberation Sans", "labelFontSize": 9, "labelColor": "#000000", "labelPadding": 8, "labelOverlap": false, "labelFlush": false, "labelBound": false, "title": null}},
"stroke": {"field": "car", "type": "nominal", "legend": null},
"fill": {"field": "car", "type": "nominal", "legend": null,
"scale": {"domain": ["Rw","Ry","Gw","Gy","Bw","By","Vw","Vy","Pw","Py","DGw","DGy","Yw","Yy","LBw","LBy","Puw","Puy","Tw","Grw","Kw","LGw","Ow","Nw"],
"range": ["#ffffff","#ffff00","#ffffff","#ffff00","#ffffff","#ffff00","#ffffff","#ffff00","#ffffff","#ffff00","#ffffff","#ffff00","#ffffff","#ffff00","#ffffff","#ffff00","#ffffff","#ffff00","#ffffff","#ffffff","#ffffff","#ffffff","#ffffff","#ffffff"]}}
}
}
]
}
